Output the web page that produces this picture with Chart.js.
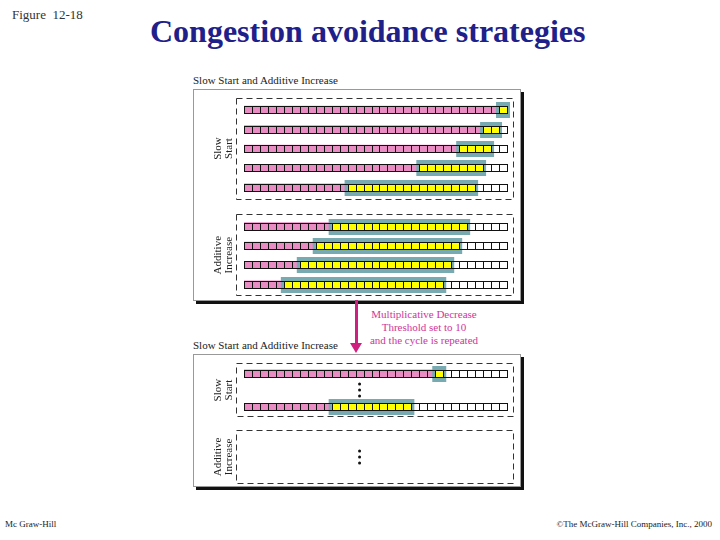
<!DOCTYPE html>
<html><head><meta charset="utf-8">
<script src="https://cdn.jsdelivr.net/npm/chart.js@4"></script>
<style>
body{margin:0;width:720px;height:540px;position:relative;background:#fff;font-family:"Liberation Serif",serif;overflow:hidden}
.t{position:absolute;white-space:nowrap}
.panel{position:absolute;left:193px;width:326px;border:1px solid #999;box-shadow:3px 3px 0 #111;background:#fff}
</style></head><body>
<div class="t" style="left:12px;top:7px;font-size:13px;color:#333">Figure&nbsp; 12-18</div>
<div class="t" style="left:150px;top:13px;font-size:32px;font-weight:bold;color:#20208a">Congestion avoidance strategies</div>
<div class="t" style="left:193px;top:74px;font-size:11px;color:#222">Slow Start and Additive Increase</div>
<div class="panel" style="top:89px;height:210px"><canvas id="top" width="326" height="210"></canvas></div>
<div class="t" style="left:355px;top:300px;width:3px;height:44px;background:#d0207f"></div>
<div class="t" style="left:350px;top:343px;width:0;height:0;border-left:6px solid transparent;border-right:6px solid transparent;border-top:10px solid #d0207f"></div>
<div class="t" style="left:364px;top:308px;width:120px;text-align:center;font-size:11px;line-height:13px;color:#d0359a">Multiplicative Decrease<br>Threshold set to 10<br>and the cycle is repeated</div>
<div class="t" style="left:193px;top:339px;font-size:11px;color:#222">Slow Start and Additive Increase</div>
<div class="panel" style="top:354px;height:131px"><canvas id="bot" width="326" height="131"></canvas></div>
<div class="t" style="left:5px;top:519px;font-size:9px;color:#222">Mc Graw-Hill</div>
<div class="t" style="right:8px;top:519px;font-size:9px;color:#222">©The McGraw-Hill Companies, Inc., 2000</div>
<script>
// 33 segment slots per row; window = [start, end) in segments
const cells = 33;
const topRows = ['s1','s2','s3','s4','s5','','a1','a2','a3','a4'];
const topStart = [32,30,27,22,13,null,11,9,7,5];
const topEnd   = [33,32,31,30,29,null,28,27,26,25];
const botRows = ['r1','dots','r2','','x1','xdots','x2'];
const botStart = [24,null,11,null,null,null,null];
const botEnd   = [25,null,21,null,null,null,null];

const pink='#e98cc4', yellow='#ffff00', teal='#78aab2';

function datasets(starts, ends){
  const has = i => starts[i]!=null;
  const d = (f, color) => ({data: starts.map((s,i)=>has(i)?f(s,ends[i]):null),
    backgroundColor: color, barThickness: 7, grouped:false, borderWidth:0});
  return [
    d((s,e)=>[0,s], pink),
    d((s,e)=>[s,e], yellow),
    d((s,e)=>[e,cells], '#ffffff')
  ];
}

const boxes = {
  top: [{from:0,to:4,label:['Slow','Start']},{from:6,to:9,label:['Additive','Increase']}],
  bot: [{from:0,to:2,label:['Slow','Start']},{from:4,to:6,label:['Additive','Increase']}]
};

const deco = {
  id:'deco',
  afterDatasetsDraw(chart){
    const ctx=chart.ctx, xs=chart.scales.x, ys=chart.scales.y, o=chart.options.plugins.deco;
    const bars=chart.getDatasetMeta(0).data;
    ctx.save();
    o.starts.forEach((s,i)=>{
      if(s==null) return;
      const cy=bars[i].y;
      const y=Math.round(cy-3.5);
      // sender window band around the yellow segments
      const w0=xs.getPixelForValue(s)-3, w1=xs.getPixelForValue(o.ends[i])+3;
      ctx.fillStyle=teal;
      ctx.fillRect(w0,y-4,w1-w0,4); ctx.fillRect(w0,y+8,w1-w0,4);
      ctx.fillRect(w0,y,3,8); ctx.fillRect(w1-3,y,3,8);
      ctx.strokeStyle='#111'; ctx.lineWidth=1;
      for(let k=0;k<=cells;k++){
        const x=Math.round(xs.getPixelForValue(k))+0.5;
        ctx.beginPath(); ctx.moveTo(x,y); ctx.lineTo(x,y+7); ctx.stroke();
      }
      const x0=Math.round(xs.getPixelForValue(0)), x1=Math.round(xs.getPixelForValue(cells));
      ctx.strokeRect(x0+0.5,y+0.5,x1-x0,7);
    });
    const step=ys.getPixelForValue(1)-ys.getPixelForValue(0);
    ctx.setLineDash([6,4]); ctx.strokeStyle='#333';
    o.boxes.forEach(b=>{
      const top=ys.getPixelForValue(b.from)-step*0.6, bot=ys.getPixelForValue(b.to)+step*0.6;
      const l=42, r=xs.getPixelForValue(cells)+6;
      ctx.strokeRect(l+0.5,Math.round(top)+0.5,r-l,Math.round(bot-top));
      ctx.save(); ctx.setLineDash([]); ctx.fillStyle='#222';
      ctx.font='11px "Liberation Serif"'; ctx.textAlign='center';
      ctx.translate(l-13,(top+bot)/2); ctx.rotate(-Math.PI/2);
      ctx.fillText(b.label[0],0,-2); ctx.fillText(b.label[1],0,9);
      ctx.restore();
    });
    ctx.setLineDash([]);
    ctx.fillStyle='#111';
    o.dots.forEach(i=>{
      const y=ys.getPixelForValue(i), x=xs.getPixelForValue(14.5);
      [-6,0,6].forEach(d=>{ctx.beginPath();ctx.arc(x,y+d,1.5,0,7);ctx.fill();});
    });
    ctx.restore();
  }
};

function make(id, labels, starts, ends, bx, dots, pad){
  new Chart(document.getElementById(id),{
    type:'bar',
    data:{labels:labels, datasets:datasets(starts,ends)},
    options:{
      indexAxis:'y', responsive:false, animation:false,
      layout:{padding:pad},
      scales:{x:{min:0,max:cells,display:false},y:{display:false}},
      plugins:{legend:{display:false},tooltip:{enabled:false},
        deco:{starts:starts,ends:ends,boxes:bx,dots:dots}}
    },
    plugins:[deco]
  });
}
make('top', topRows, topStart, topEnd, boxes.top, [], {left:50,right:13,top:10,bottom:6});
make('bot', botRows, botStart, botEnd, boxes.bot, [1,5], {left:50,right:13,top:10,bottom:4});
</script>
</body></html>
